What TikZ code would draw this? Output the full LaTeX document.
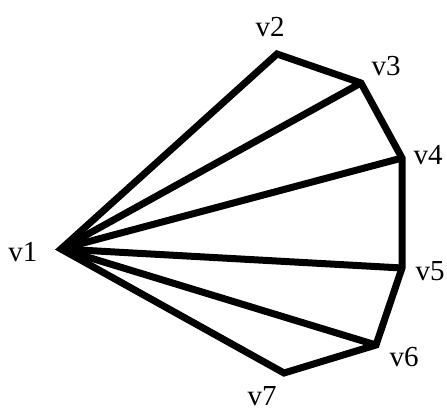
\documentclass[tikz,border=0pt]{standalone}
\usepackage{fontspec}
\setmainfont{Liberation Serif}
\begin{document}
\begin{tikzpicture}[x=1pt,y=-1pt,
  edge/.style={line width=7pt,black},
  lbl/.style={font=\fontsize{29}{29}\selectfont,inner sep=0pt}]
\useasboundingbox (0,0) rectangle (447,411);
\coordinate (v1) at (61,249);
\coordinate (v2) at (277,54);
\coordinate (v3) at (361,83);
\coordinate (v4) at (402,158);
\coordinate (v5) at (402,268);
\coordinate (v6) at (376,345);
\coordinate (v7) at (284,373);
\draw[edge] (v1) -- (v2) -- (v3) -- (v4) -- (v5) -- (v6) -- (v7) -- cycle;
\draw[edge] (v1) -- (v3);
\draw[edge] (v1) -- (v4);
\draw[edge] (v1) -- (v5);
\draw[edge] (v1) -- (v6);
\node[lbl] (l1) at (23,252) {v1};
\node[lbl] (l2) at (270,27) {v2};
\node[lbl] (l3) at (386,66) {v3};
\node[lbl] (l4) at (428,155) {v4};
\node[lbl] (l5) at (430,271) {v5};
\node[lbl] (l6) at (404,357) {v6};
\node[lbl] (l7) at (262,396) {v7};
\end{tikzpicture}
\end{document}
